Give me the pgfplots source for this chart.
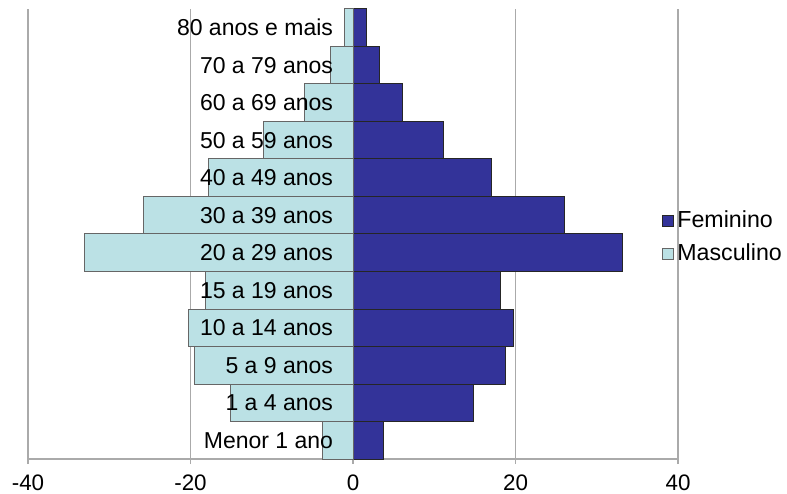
\documentclass[border=0pt]{standalone}
\usepackage{pgfplots}
\pgfplotsset{compat=1.18}
\usepackage{fontspec}
\setmainfont{Liberation Sans}
\definecolor{fem}{RGB}{51,51,153}
\definecolor{masc}{RGB}{187,225,229}
\definecolor{gridgray}{RGB}{170,170,170}
\tikzset{cat/.style={anchor=east, inner sep=0pt, xshift=-9.8pt,
        font=\fontsize{11.5}{12}\selectfont}}

\begin{document}
\begin{tikzpicture}
\begin{axis}[
    name=ax,
    scale only axis,
    width=325pt, height=225pt,
    xmin=-40, xmax=40,
    ymin=-0.5, ymax=11.5,
    xtick={-40,-20,0,20,40},
    ytick=\empty,
    axis x line=bottom,
    axis y line=middle,
    axis line style={-, draw=gridgray, line width=0.8pt},
    hide obscured x ticks=false,
    xmajorgrids=true,
    grid style={draw=gridgray, line width=0.8pt},
    x tick style={draw=gridgray, line width=0.8pt},
    tick align=outside,
    major tick length=2.5pt,
    xticklabel style={yshift=-2pt, font=\fontsize{11.2}{12}\selectfont},
    /pgf/number format/assume math mode=true,
    xbar, bar width=1, bar shift=0pt,
    legend style={draw=none, fill=none, inner sep=0pt,
        at={(0.9754,0.493)}, anchor=west,
        font=\fontsize{11.6}{12}\selectfont, row sep=3.5pt,
        legend cell align=left,
        nodes={inner sep=1.5pt},
        /tikz/every even column/.style={column sep=1.5pt}},
    legend image code/.code={
        \draw[#1, line width=0.5pt] (0pt,-2.75pt) rectangle (5.5pt,2.75pt);},
    clip=false,
]
\addplot[fill=fem, draw=black!85, line width=0.5pt] coordinates {
    (3.7,0) (14.8,1) (18.8,2) (19.8,3) (18.2,4) (33.2,5)
    (26.0,6) (17.1,7) (11.1,8) (6.15,9) (3.2,10) (1.6,11)
};
\addlegendentry{Feminino}
\addplot[fill=masc, draw=black!60, line width=0.5pt] coordinates {
    (-3.7,0) (-15.1,1) (-19.5,2) (-20.3,3) (-18.1,4) (-33.0,5)
    (-25.8,6) (-17.8,7) (-11.0,8) (-6.0,9) (-2.8,10) (-1.1,11)
};
\addlegendentry{Masculino}
% category names, set over the bars
\node[cat] at (axis cs:0,0)  {Menor 1 ano};
\node[cat] at (axis cs:0,1)  {1 a 4 anos};
\node[cat] at (axis cs:0,2)  {5 a 9 anos};
\node[cat] at (axis cs:0,3)  {10 a 14 anos};
\node[cat] at (axis cs:0,4)  {15 a 19 anos};
\node[cat] at (axis cs:0,5)  {20 a 29 anos};
\node[cat] at (axis cs:0,6)  {30 a 39 anos};
\node[cat] at (axis cs:0,7)  {40 a 49 anos};
\node[cat] at (axis cs:0,8)  {50 a 59 anos};
\node[cat] at (axis cs:0,9)  {60 a 69 anos};
\node[cat] at (axis cs:0,10) {70 a 79 anos};
\node[cat] at (axis cs:0,11) {80 anos e mais};
\end{axis}
\pgfresetboundingbox
\path[use as bounding box] ([shift={(-14pt,-17pt)}]ax.south west) rectangle ([shift={(54.5pt,4.5pt)}]ax.north east);
\end{tikzpicture}
\end{document}
